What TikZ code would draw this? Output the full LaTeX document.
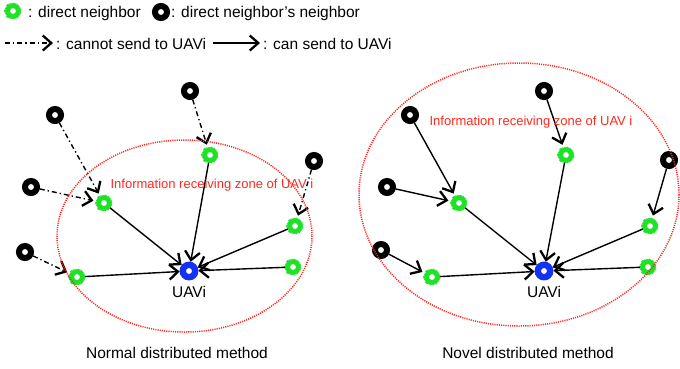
\documentclass[tikz,border=0pt]{standalone}
\usepackage{fontspec}
\setmainfont{Liberation Sans}
\usetikzlibrary{arrows.meta}
\definecolor{nbgreen}{RGB}{30,225,40}
\definecolor{uavblue}{RGB}{20,50,245}
\definecolor{zonered}{RGB}{255,40,30}
\tikzset{
  gnode/.style={circle, draw=nbgreen, fill=white, line width=4.6bp, minimum size=11bp, inner sep=0pt,
    preaction={draw=nbgreen, line width=6.4bp, dash pattern=on 0.8bp off 0.7bp}},
  bnode/.style={circle, draw=black, fill=white, line width=6bp, minimum size=12bp, inner sep=0pt},
  unode/.style={circle, draw=uavblue, fill=white, line width=6.4bp, minimum size=12.4bp, inner sep=0pt},
  barb/.style={-{Straight Barb[length=8.5bp, width=15bp, line width=2.3bp]}},
  link/.style={barb, line width=1.4bp},
  nolink/.style={link, dash pattern=on 5bp off 3bp on 1.3bp off 3bp},
  zone/.style={draw=zonered, line width=1.5bp, dash pattern=on 1.1bp off 1.1bp},
  lbl/.style={inner sep=0pt, font=\fontsize{15.5bp}{18bp}\selectfont},
  zlbl/.style={inner sep=0pt, text=zonered, font=\fontsize{13bp}{15bp}\selectfont},
}
\begin{document}
\begin{tikzpicture}[x=1bp, y=-1bp]
\useasboundingbox (0,0) rectangle (680,368);

% legend
\node[gnode] (lg) at (13,11) {};
\node[lbl, anchor=base west] (lgt) at (28,17) {: direct neighbor};
\node[bnode] (lb) at (161,12) {};
\node[lbl, anchor=base west] (lbt) at (171,17) {: direct neighbor's neighbor};
\coordinate (la1) at (5,43);
\coordinate (la2) at (53,43);
\draw[nolink] (la1) -- (la2);
\node[lbl, anchor=base west] (lat) at (56,49) {: cannot send to UAVi};
\coordinate (lc1) at (213,43);
\coordinate (lc2) at (260,43);
\draw[link] (lc1) -- (lc2);
\node[lbl, anchor=base west] (lct) at (263,49) {: can send to UAVi};

% normal distributed method
\node[unode] (u) at (189,271) {};
\node[lbl, anchor=base] (ut) at (189,297) {UAVi};
\node[gnode] (g1) at (210,155) {};
\node[gnode] (g2) at (104,203) {};
\node[gnode] (g3) at (295,226) {};
\node[gnode] (g4) at (293,267) {};
\node[gnode] (g5) at (77,277) {};
\node[bnode] (b1) at (55,115) {};
\node[bnode] (b2) at (190,91) {};
\node[bnode] (b3) at (31,187) {};
\node[bnode] (b4) at (25,252) {};
\node[bnode] (b5) at (314,161) {};
\draw[nolink, shorten >=3bp] (b1) -- (g2);
\draw[nolink, shorten >=3bp] (b2) -- (g1);
\draw[nolink, shorten >=3bp] (b3) -- (g2);
\draw[nolink, shorten >=3bp] (b4) -- (g5);
\draw[nolink, shorten >=3bp] (b5) -- (g3);
\foreach \g in {g1,g2,g3,g4,g5} \draw[link] (\g) -- (u);
\draw[zone] (184.5,236) ellipse [x radius=127.5, y radius=96];
\node[zlbl, anchor=base] (zl) at (212,188) {Information receiving zone of UAV i};
\node[lbl, anchor=base] (cl) at (177,358) {Normal distributed method};

% novel distributed method
\node[unode] (v) at (544,271) {};
\node[lbl, anchor=base] (vt) at (544,297) {UAVi};
\node[gnode] (h1) at (566,155) {};
\node[gnode] (h2) at (459,203) {};
\node[gnode] (h3) at (650,226) {};
\node[gnode] (h4) at (648,267) {};
\node[gnode] (h5) at (432,277) {};
\node[bnode] (c1) at (410,115) {};
\node[bnode] (c2) at (544,91) {};
\node[bnode] (c3) at (387,187) {};
\node[bnode] (c4) at (381,250) {};
\node[bnode] (c5) at (669,160) {};
\draw[link, shorten >=3bp] (c1) -- (h2);
\draw[link, shorten >=3bp] (c2) -- (h1);
\draw[link, shorten >=3bp] (c3) -- (h2);
\draw[link, shorten >=3bp] (c4) -- (h5);
\draw[link, shorten >=3bp] (c5) -- (h3);
\foreach \h in {h1,h2,h3,h4,h5} \draw[link] (\h) -- (v);
\draw[zone] (519,194.5) ellipse [x radius=160, y radius=131.5];
\node[zlbl, anchor=base] (zr) at (531,125) {Information receiving zone of UAV i};
\node[lbl, anchor=base] (cr) at (528,358) {Novel distributed method};
\end{tikzpicture}
\end{document}
